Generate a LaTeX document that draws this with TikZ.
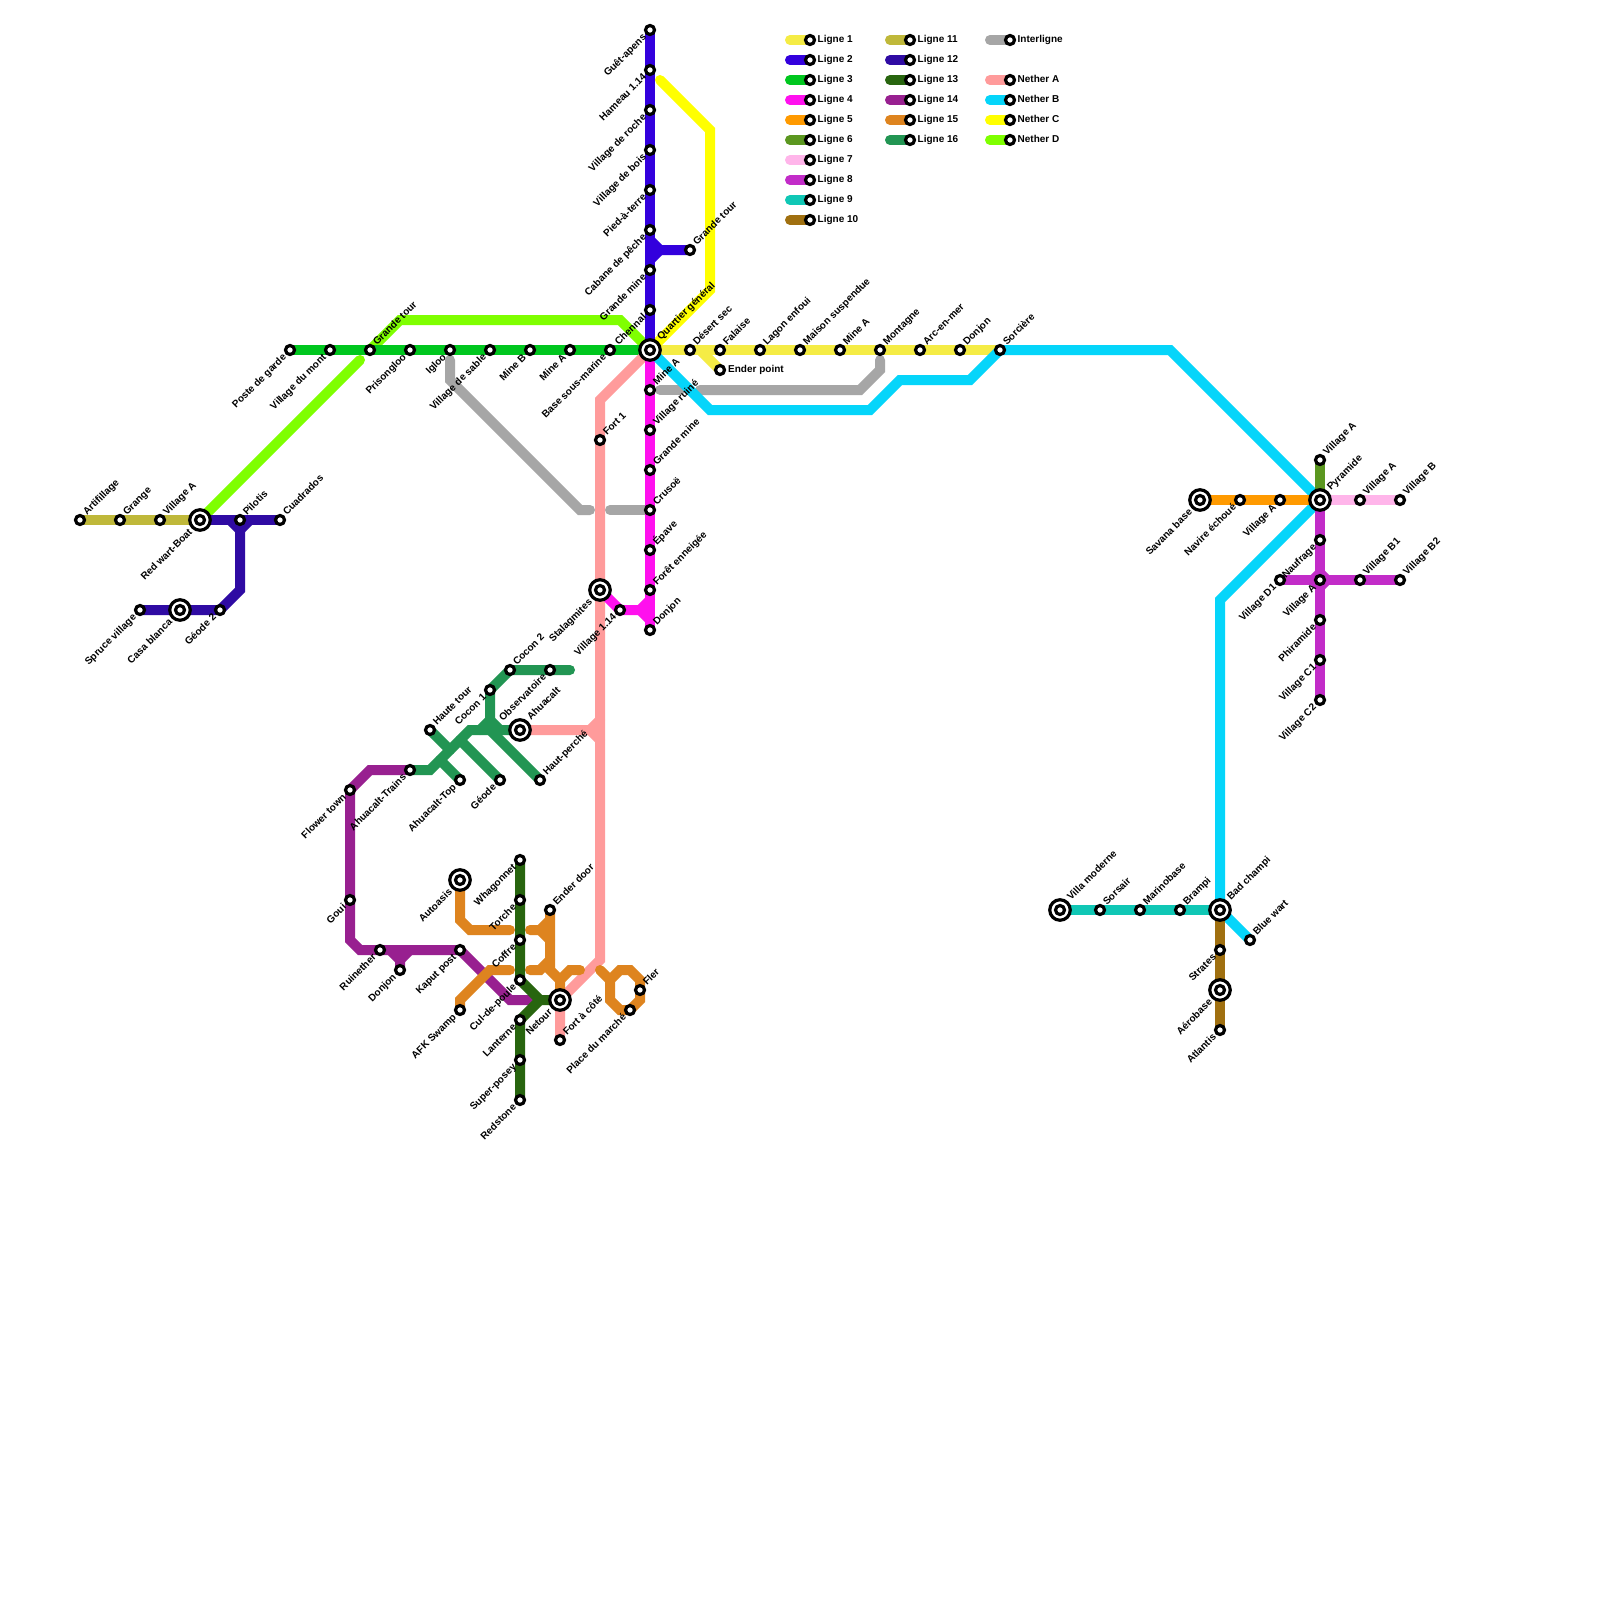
\documentclass[tikz,border=0pt]{standalone}
\usepackage{fontspec}
\setmainfont{Liberation Sans}[BoldFont={Liberation Sans Bold}]
\usetikzlibrary{backgrounds}
\definecolor{LA}{HTML}{F5EC45}\definecolor{LB}{HTML}{3300DD}\definecolor{LC}{HTML}{00C71F}
\definecolor{LD}{HTML}{FF10EE}\definecolor{LE}{HTML}{FF9A00}\definecolor{LF}{HTML}{5B9720}
\definecolor{LG}{HTML}{FFB5EA}\definecolor{LH}{HTML}{C22CC8}\definecolor{LI}{HTML}{10C7B5}
\definecolor{LJ}{HTML}{A07010}\definecolor{LK}{HTML}{BFB83A}\definecolor{LL}{HTML}{2F0BA3}
\definecolor{LM}{HTML}{28650F}\definecolor{LN}{HTML}{982090}\definecolor{LO}{HTML}{DE841F}
\definecolor{LP}{HTML}{229553}\definecolor{LQ}{HTML}{A6A6A6}\definecolor{NA}{HTML}{FF9B9B}
\definecolor{NB}{HTML}{05D5FA}\definecolor{NC}{HTML}{FFFF00}\definecolor{ND}{HTML}{7FFF00}
\tikzset{
  st/.style={circle,draw=black,fill=white,line width=3.2pt,minimum size=9pt,inner sep=0pt,outer sep=0pt},
  hubo/.style={circle,draw=black,fill=white,line width=3.2pt,minimum size=20.5pt,inner sep=0pt,outer sep=0pt},
  txt/.style={font=\bfseries\fontsize{10}{11}\selectfont,inner sep=0pt,text=black},
  lr/.style={txt,rotate=45,anchor=mid west},
  ll/.style={txt,rotate=45,anchor=mid east},
  lh/.style={txt,anchor=mid west},
  ln/.style={line width=10pt,line cap=round,line join=miter}
}
\newcommand\StR[4]{\node[st](#1) at (#2,#3){}; \node[lr](#1-t) at ([shift={(5,-6)}]#1.center){#4};}
\newcommand\StL[4]{\node[st](#1) at (#2,#3){}; \node[ll](#1-t) at ([shift={(-5,6)}]#1.center){#4};}
\newcommand\HubR[4]{\node[hubo](#1) at (#2,#3){}; \node[st](#1-in) at (#1.center){}; \node[lr](#1-t) at ([shift={(9,-11)}]#1.center){#4};}
\newcommand\HubL[4]{\node[hubo](#1) at (#2,#3){}; \node[st](#1-in) at (#1.center){}; \node[ll](#1-t) at ([shift={(-9,11)}]#1.center){#4};}
\newcommand\Leg[5]{\node[st](#1) at (#2,#3){}; \node[lh](#1-t) at ([shift={(7.5,-0.5)}]#1.center){#4};
  \begin{pgfonlayer}{background}\draw[ln,#5] ([xshift=-20pt]#1.center) -- (#1.center);\end{pgfonlayer}}
\begin{document}
\begin{tikzpicture}[x=1pt,y=-1pt]
\begin{pgfonlayer}{background}
\fill[white] (0,0) rectangle (1600,1600);
\end{pgfonlayer}
\useasboundingbox (0,0) rectangle (1600,1600);
% stations, line 2
\StL{a1}{650}{30}{Guêt-apens}\StL{a2}{650}{70}{Hameau 1.14}\StL{a3}{650}{110}{Village de roche}
\StL{a4}{650}{150}{Village de bois}\StL{a5}{650}{190}{Pied-à-terre}\StL{a6}{650}{230}{Cabane de pêche}
\StL{a7}{650}{270}{Grande mine}\StL{a8}{650}{310}{Chennal}\StR{a9}{690}{250}{Grande tour}
\HubR{hq}{650}{350}{Quartier général}
% line 1
\StR{b1}{690}{350}{Désert sec}\StR{b2}{720}{350}{Falaise}\StR{b3}{760}{350}{Lagon enfoui}
\StR{b4}{800}{350}{Maison suspendue}\StR{b5}{840}{350}{Mine A}\StR{b6}{880}{350}{Montagne}
\StR{b7}{920}{350}{Arc-en-mer}\StR{b8}{960}{350}{Donjon}\StR{b9}{1000}{350}{Sorcière}
\node[st](b10) at (720,370){}; \node[lh](b10-t) at ([shift={(8,0)}]b10.center){Ender point};
% line 3
\StL{c1}{290}{350}{Poste de garde}\StL{c2}{330}{350}{Village du mont}\StR{c3}{370}{350}{Grande tour}
\StL{c4}{410}{350}{Prisongloo}\StL{c5}{450}{350}{Igloo}\StL{c6}{490}{350}{Village de sable}
\StL{c7}{530}{350}{Mine B}\StL{c8}{570}{350}{Mine A}\StL{c9}{610}{350}{Base sous-marine}
% line 4
\StR{d1}{650}{390}{Mine A}\StR{d2}{650}{430}{Village ruiné}\StR{d3}{650}{470}{Grande mine}
\StR{d4}{650}{510}{Crusoë}\StR{d5}{650}{550}{Épave}\StR{d6}{650}{590}{Forêt enneigée}
\StR{d7}{650}{630}{Donjon}\StL{d8}{620}{610}{Village 1.14}\HubL{d9}{600}{590}{Stalagmites}
\StR{e1}{600}{440}{Fort 1}
% west
\StR{f1}{80}{520}{Artifillage}\StR{f2}{120}{520}{Grange}\StR{f3}{160}{520}{Village A}
\HubL{f4}{200}{520}{Red wart-Boat}\StR{f5}{240}{520}{Pilotis}\StR{f6}{280}{520}{Cuadrados}
\StL{f7}{140}{610}{Spruce village}\HubL{f8}{180}{610}{Casa blanca}\StL{f9}{220}{610}{Géode 2}
% east
\StR{g1}{1320}{460}{Village A}\HubR{g2}{1320}{500}{Pyramide}\StR{g3}{1360}{500}{Village A}
\StR{g4}{1400}{500}{Village B}\HubL{g5}{1200}{500}{Savana base}\StL{g6}{1240}{500}{Navire échoué}
\StL{g7}{1280}{500}{Village A}\StL{h1}{1320}{540}{Naufrage}\StL{h2}{1280}{580}{Village D1}
\StL{h3}{1320}{580}{Village A}\StR{h4}{1360}{580}{Village B1}\StR{h5}{1400}{580}{Village B2}
\StL{h6}{1320}{620}{Phiramide}\StL{h7}{1320}{660}{Village C1}\StL{h8}{1320}{700}{Village C2}
\HubR{i1}{1060}{910}{Villa moderne}\StR{i2}{1100}{910}{Sorsair}\StR{i3}{1140}{910}{Marinobase}
\StR{i4}{1180}{910}{Brampi}\HubR{i5}{1220}{910}{Bad champi}\StR{i6}{1250}{940}{Blue wart}
\StL{j1}{1220}{950}{Strates}\HubL{j2}{1220}{990}{Aérobase}\StL{j3}{1220}{1030}{Atlantis}
% line 16
\StR{k1}{510}{670}{Cocon 2}\StL{k2}{550}{670}{Observatoire}\StL{k3}{490}{690}{Cocon 1}
\HubR{k4}{520}{730}{Ahuacalt}\StR{k5}{430}{730}{Haute tour}\StR{k6}{540}{780}{Haut-perché}
\StL{k7}{500}{780}{Géode}\StL{k8}{460}{780}{Ahuacalt-Top}\StL{k9}{410}{770}{Ahuacalt-Trains}
% line 14
\StL{l1}{350}{790}{Flower town}\StL{l2}{350}{900}{Goui}\StL{l3}{380}{950}{Ruinether}
\StL{l4}{400}{970}{Donjon}\StL{l5}{460}{950}{Kaput post}
% line 15
\StL{m1}{460}{1010}{AFK Swamp}\HubL{m2}{460}{880}{Autoasis}\StR{m3}{550}{910}{Ender door}
\StR{m4}{640}{990}{Fler}\StL{m5}{630}{1010}{Place du marché}
% line 13
\StL{n1}{520}{860}{Whagonnet}\StL{n2}{520}{900}{Torche}\StL{n3}{520}{940}{Coffre}
\StL{n4}{520}{980}{Cul-de-poule}\StL{n5}{520}{1020}{Lanterne}\StL{n6}{520}{1060}{Super-posey}
\StL{n7}{520}{1100}{Redstone}\HubL{n8}{560}{1000}{Netour}\StR{n9}{560}{1040}{Fort à côté}
% legend
\Leg{q1}{810}{40}{Ligne 1}{LA}\Leg{q2}{810}{60}{Ligne 2}{LB}\Leg{q3}{810}{80}{Ligne 3}{LC}
\Leg{q4}{810}{100}{Ligne 4}{LD}\Leg{q5}{810}{120}{Ligne 5}{LE}\Leg{q6}{810}{140}{Ligne 6}{LF}
\Leg{q7}{810}{160}{Ligne 7}{LG}\Leg{q8}{810}{180}{Ligne 8}{LH}\Leg{q9}{810}{200}{Ligne 9}{LI}
\Leg{q10}{810}{220}{Ligne 10}{LJ}
\Leg{r1}{910}{40}{Ligne 11}{LK}\Leg{r2}{910}{60}{Ligne 12}{LL}\Leg{r3}{910}{80}{Ligne 13}{LM}
\Leg{r4}{910}{100}{Ligne 14}{LN}\Leg{r5}{910}{120}{Ligne 15}{LO}\Leg{r6}{910}{140}{Ligne 16}{LP}
\Leg{s1}{1010}{40}{Interligne}{LQ}\Leg{s2}{1010}{80}{Nether A}{NA}\Leg{s3}{1010}{100}{Nether B}{NB}
\Leg{s4}{1010}{120}{Nether C}{NC}\Leg{s5}{1010}{140}{Nether D}{ND}
\begin{pgfonlayer}{background}
% Nether D
\draw[ln,ND] (f4.center) -- (360,360);
\draw[ln,ND] (c3.center) -- (400,320) -- (620,320) -- (hq.center);
% Line 1
\draw[ln,LA] (hq.center) -- (b9.center);
\draw[ln,LA] (700,350) -- (b10.center);
% Line 3
\draw[ln,LC] (c1.center) -- (hq.center);
% Interligne
\draw[ln,LQ] (d1.center) ++(10,0) -- (680,390);
\draw[ln,LQ] (700,390) -- (860,390) -- (880,370) -- (880,360);
\draw[ln,LQ] (450,360) -- (450,380) -- (580,510) -- (590,510);
\draw[ln,LQ] (610,510) -- (d4.center);
% Nether C
\draw[ln,NC] (660,80) -- (710,130) -- (710,290) -- (hq.center);
% Line 2
\draw[ln,LB] (a1.center) -- (hq.center);
\draw[ln,LB] (650,240) -- (660,250) -- (a9.center);
\draw[ln,LB] (650,260) -- (660,250);
% Nether A
\draw[ln,NA] (hq.center) -- (600,400) -- (600,960) -- (n8.center) -- (n9.center);
\draw[ln,NA] (k4.center) -- (590,730) -- (600,720);
\draw[ln,NA] (590,730) -- (600,740);
% Line 4
\draw[ln,LD] (hq.center) -- (d7.center);
\draw[ln,LD] (d9.center) -- (d8.center) -- (640,610) -- (650,600);
\draw[ln,LD] (640,610) -- (650,620);
% Nether B
\draw[ln,NB] (hq.center) -- (710,410) -- (870,410) -- (900,380) -- (970,380) -- (b9.center) -- (1170,350) -- (g2.center) -- (1220,600) -- (i5.center) -- (i6.center);
% East lines
\draw[ln,LE] (g5.center) -- (g2.center);
\draw[ln,LF] (g1.center) -- (g2.center);
\draw[ln,LG] (g2.center) -- (g4.center);
\draw[ln,LH] (g2.center) -- (h8.center);
\draw[ln,LH] (h2.center) -- (h5.center);
\draw[ln,LH] (1313,580) -- (1320,573) -- (1327,580) -- (1320,587) -- cycle;
\draw[ln,LI] (i1.center) -- (i5.center);
\draw[ln,LJ] (i5.center) -- (j3.center);
% West lines
\draw[ln,LK] (f1.center) -- (f4.center);
\draw[ln,LL] (f4.center) -- (f6.center);
\draw[ln,LL] (f7.center) -- (f9.center) -- (240,590) -- (240,530) -- (230,520);
\draw[ln,LL] (240,530) -- (250,520);
% Line 14
\draw[ln,LN] (k9.center) -- (370,770) -- (l1.center) -- (350,940) -- (360,950) -- (l5.center) -- (510,1000) -- (530,1000);
\draw[ln,LN] (390,950) -- (400,960) -- (l4.center);
\draw[ln,LN] (410,950) -- (400,960);
% Line 15
\draw[ln,LO] (m2.center) -- (460,920) -- (470,930) -- (510,930);
\draw[ln,LO] (530,930) -- (540,930) -- (550,920);
\draw[ln,LO] (540,930) -- (550,940);
\draw[ln,LO] (m3.center) -- (550,970) -- (560,980) -- (n8.center);
\draw[ln,LO] (530,970) -- (540,970) -- (550,960);
\draw[ln,LO] (560,980) -- (570,970) -- (580,970);
\draw[ln,LO] (510,970) -- (490,970) -- (460,1000) -- (m1.center);
\draw[ln,LO] (600,970) -- (610,980) -- (610,1000) -- (620,1010) -- (m5.center) -- (640,1000) -- (640,980) -- (630,970) -- (620,970) -- (610,980);
% Line 13
\draw[ln,LM] (n1.center) -- (n4.center) -- (540,1000) -- (n8.center);
\draw[ln,LM] (n7.center) -- (n5.center) -- (540,1000);
% Line 16
\draw[ln,LP] (k9.center) -- (430,770) -- (470,730) -- (k4.center);
\draw[ln,LP] (k5.center) -- (450,750);
\draw[ln,LP] (440,760) -- (k8.center);
\draw[ln,LP] (460,740) -- (k7.center);
\draw[ln,LP] (490,730) -- (k6.center);
\draw[ln,LP] (k3.center) -- (490,720) -- (480,730);
\draw[ln,LP] (490,720) -- (500,730);
\draw[ln,LP] (k3.center) -- (k1.center) -- (570,670);
\end{pgfonlayer}
\end{tikzpicture}
\end{document}
